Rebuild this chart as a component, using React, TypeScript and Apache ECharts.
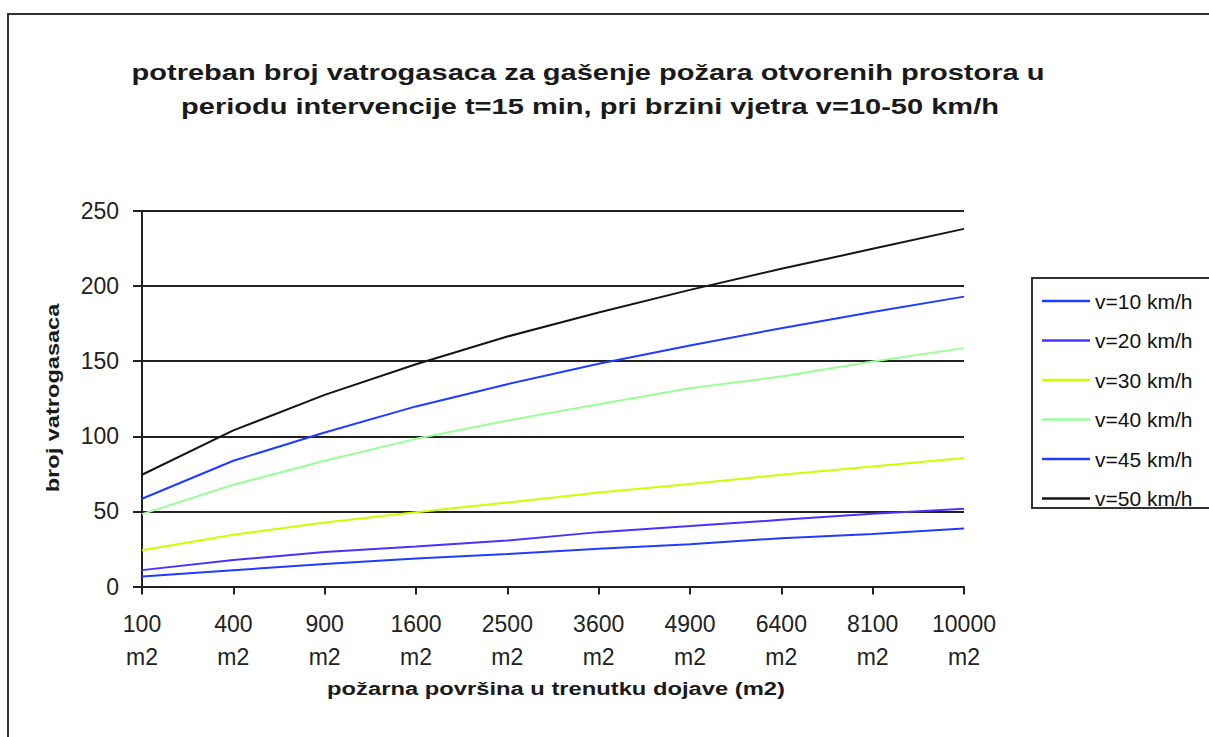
import React, { useEffect, useRef } from "react";
import * as echarts from "echarts";

const categories = ["100", "400", "900", "1600", "2500", "3600", "4900", "6400", "8100", "10000"];
const unitLabel = "m2";
const seriesNames = ["v=10 km/h", "v=20 km/h", "v=30 km/h", "v=40 km/h", "v=45 km/h", "v=50 km/h"];
const v10 = [6.7, 10.9, 14.9, 18.6, 21.6, 25.1, 28.2, 32.2, 34.9, 38.6];
const v20 = [10.9, 17.6, 22.9, 26.6, 30.6, 36.2, 40.2, 44.4, 48.4, 51.7];
const v30 = [24.2, 34.4, 42.6, 49.5, 55.9, 62.6, 68.2, 74.4, 79.9, 85.5];
const v40 = [48.2, 67.7, 83.7, 98.3, 110.5, 121.4, 132.0, 139.8, 149.8, 158.7];
const v45 = [58.4, 83.7, 102.5, 119.9, 134.7, 148.3, 160.5, 172.0, 182.7, 193.0];
const v50 = [74.4, 103.9, 127.6, 148.0, 166.4, 182.4, 197.5, 211.5, 224.8, 238.1];
const seriesValues = [v10, v20, v30, v40, v45, v50];
const seriesColors = ["#1f3cff", "#4633ff", "#ccff00", "#99ff99", "#1f3cff", "#151515"];

const titleLine1 = "potreban broj vatrogasaca za gašenje požara otvorenih prostora u";
const titleLine2 = "periodu intervencije t=15 min, pri brzini vjetra v=10-50 km/h";
const xAxisTitle = "požarna površina u trenutku dojave (m2)";
const yAxisTitle = "broj vatrogasaca";

const FONT = "Liberation Sans";

export default function App() {
  const ref = useRef<HTMLDivElement>(null);
  useEffect(() => {
    if (!ref.current) return;
    const chart = echarts.init(ref.current, null, { renderer: "svg" });
    chart.setOption({
      animation: false,
      backgroundColor: "#ffffff",
      textStyle: { fontFamily: FONT },
      grid: { left: 142, top: 211, right: 245, bottom: 150.5, containLabel: false },
      legend: {
        orient: "vertical",
        left: 1042,
        top: 290.5,
        padding: 0,
        icon: "rect",
        itemWidth: 48,
        itemHeight: 2.5,
        itemGap: 18.5,
        textStyle: { fontSize: 21, color: "#111", fontFamily: FONT },
        data: seriesNames,
      },
      xAxis: {
        type: "category",
        data: categories,
        boundaryGap: false,
        axisLine: { show: true, lineStyle: { color: "#222", width: 2 } },
        axisTick: { show: true, length: 8, lineStyle: { color: "#222", width: 2 } },
        axisLabel: {
          fontSize: 23,
          color: "#222",
          lineHeight: 33,
          margin: 21,
          interval: 0,
          fontFamily: FONT,
          formatter: (v: string) => v + "\n" + unitLabel,
        },
        splitLine: { show: false },
      },
      yAxis: {
        type: "value",
        min: 0,
        max: 250,
        interval: 50,
        axisLine: { show: true, lineStyle: { color: "#222", width: 2 } },
        axisTick: { show: true, length: 9, lineStyle: { color: "#222", width: 2 } },
        axisLabel: { fontSize: 23, color: "#222", margin: 23, fontFamily: FONT },
        splitLine: { show: true, lineStyle: { color: "#222", width: 2 } },
      },
      series: seriesNames.map((name, i) => ({
        name,
        type: "line",
        data: seriesValues[i],
        symbol: "none",
        lineStyle: { color: seriesColors[i], width: 2 },
        itemStyle: { color: seriesColors[i] },
        z: 3,
      })),
      graphic: [
        {
          type: "rect",
          shape: { x: 8, y: 14, width: 1230, height: 760 },
          style: { fill: "none", stroke: "#333", lineWidth: 2 },
          silent: true,
        },
        {
          type: "rect",
          shape: { x: 1032, y: 278, width: 220, height: 230 },
          style: { fill: "none", stroke: "#333", lineWidth: 2 },
          silent: true,
        },
        {
          type: "text",
          x: 588,
          y: 72,
          scaleX: 1.32,
          style: {
            text: titleLine1,
            fontSize: 22,
            fontWeight: "bold",
            fontFamily: FONT,
            fill: "#1a1a1a",
            align: "center",
            verticalAlign: "middle",
          },
        },
        {
          type: "text",
          x: 590,
          y: 106,
          scaleX: 1.32,
          style: {
            text: titleLine2,
            fontSize: 22,
            fontWeight: "bold",
            fontFamily: FONT,
            fill: "#1a1a1a",
            align: "center",
            verticalAlign: "middle",
          },
        },
        {
          type: "text",
          x: 556,
          y: 689,
          scaleX: 1.32,
          style: {
            text: xAxisTitle,
            fontSize: 18,
            fontWeight: "bold",
            fontFamily: FONT,
            fill: "#1a1a1a",
            align: "center",
            verticalAlign: "middle",
          },
        },
        {
          type: "text",
          x: 53,
          y: 398,
          rotation: Math.PI / 2,
          scaleX: 1.31,
          style: {
            text: yAxisTitle,
            fontSize: 18,
            fontWeight: "bold",
            fontFamily: FONT,
            fill: "#1a1a1a",
            align: "center",
            verticalAlign: "middle",
          },
        },
      ],
    });
    return () => chart.dispose();
  }, []);
  return (
    <div
      ref={ref}
      style={{ position: "fixed", left: 0, top: 0, width: 1209, height: 737, background: "#fff" }}
    />
  );
}
